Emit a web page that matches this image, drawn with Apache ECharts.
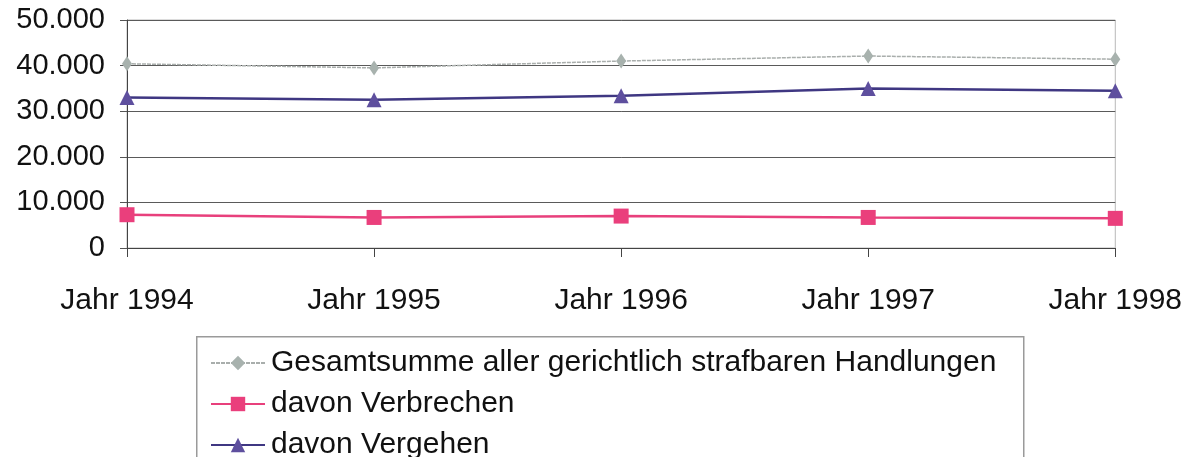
<!DOCTYPE html>
<html>
<head>
<meta charset="utf-8">
<script src="https://cdn.jsdelivr.net/npm/echarts@6/dist/echarts.min.js"></script>
<style>
  html, body { margin: 0; padding: 0; background: #fff; }
  #chart { width: 1185px; height: 457px; }
</style>
</head>
<body>
<div id="chart"></div>
<script>
  // Jahre und Werte
  const jahre = ['Jahr 1994', 'Jahr 1995', 'Jahr 1996', 'Jahr 1997', 'Jahr 1998']
  const gesamtsumme = [40400, 39500, 41000, 42100, 41400]
  const verbrechen = [7300, 6700, 7000, 6700, 6500]
  const vergehen = [33000, 32500, 33400, 35000, 34500]
  const namen = ['Gesamtsumme aller gerichtlich strafbaren Handlungen', 'davon Verbrechen', 'davon Vergehen']

  const font = 'Liberation Sans, Arial, sans-serif'

  const fmt = (v) => String(v).replace(/\B(?=(\d{3})+(?!\d))/g, '.')

  // eine Legende pro Zeile, damit nichts umbricht
  const legenden = namen.map((n, i) => ({
    orient: 'vertical',
    left: 210,
    top: 348 + i * 41,
    padding: 0,
    itemWidth: 54,
    itemHeight: 18,
    itemGap: 0,
    selectedMode: false,
    textStyle: { fontFamily: font, fontSize: 30, color: '#111', padding: [0, 0, 0, 1] },
    data: [n]
  }))

  const myChart = echarts.init(document.getElementById('chart'))
  myChart.setOption({
    animation: false,
    graphic: [{
      type: 'rect',
      left: 196,
      top: 336,
      shape: { width: 827, height: 140 },
      style: { fill: '#fff', stroke: '#9a9a9a', lineWidth: 1.5 },
      z: -1
    }],
    grid: {
      left: 127,
      right: 67,
      top: 20,
      bottom: 209,
      show: true,
      borderColor: '#b8b8b8',
      borderWidth: 1
    },
    legend: legenden,
    xAxis: {
      type: 'category',
      boundaryGap: false,
      data: jahre,
      axisLine: { lineStyle: { color: '#444', width: 1 } },
      axisTick: { show: true, length: 9, lineStyle: { color: '#444' } },
      axisLabel: {
        margin: 38,
        fontFamily: font,
        fontSize: 30,
        color: '#111',
        interval: 0,
        showMinLabel: true,
        showMaxLabel: true
      },
      splitLine: { show: false }
    },
    yAxis: {
      type: 'value',
      min: 0,
      max: 50000,
      interval: 10000,
      axisLine: { show: true, lineStyle: { color: '#444' } },
      axisTick: { show: true, length: 7, lineStyle: { color: '#555' } },
      axisLabel: {
        margin: 22,
        fontFamily: font,
        fontSize: 29,
        color: '#111',
        formatter: fmt
      },
      splitLine: { show: true, lineStyle: { color: '#5a5a5a', width: 1 } }
    },
    series: [
      {
        name: namen[0],
        type: 'line',
        data: gesamtsumme,
        symbol: 'diamond',
        symbolSize: [10, 15],
        itemStyle: { color: '#a8b2ae' },
        lineStyle: { color: '#a9aeac', width: 1.5, type: [4, 1] }
      },
      {
        name: namen[1],
        type: 'line',
        data: verbrechen,
        symbol: 'rect',
        symbolSize: 15,
        itemStyle: { color: '#ea3f7c' },
        lineStyle: { color: '#e8407c', width: 2.5 }
      },
      {
        name: namen[2],
        type: 'line',
        data: vergehen,
        symbol: 'triangle',
        symbolSize: 15,
        itemStyle: { color: '#5e4f9e' },
        lineStyle: { color: '#3f3782', width: 2.5 }
      }
    ]
  })

  window.addEventListener('resize', () => {
    myChart.resize()
  })
</script>
</body>
</html>
